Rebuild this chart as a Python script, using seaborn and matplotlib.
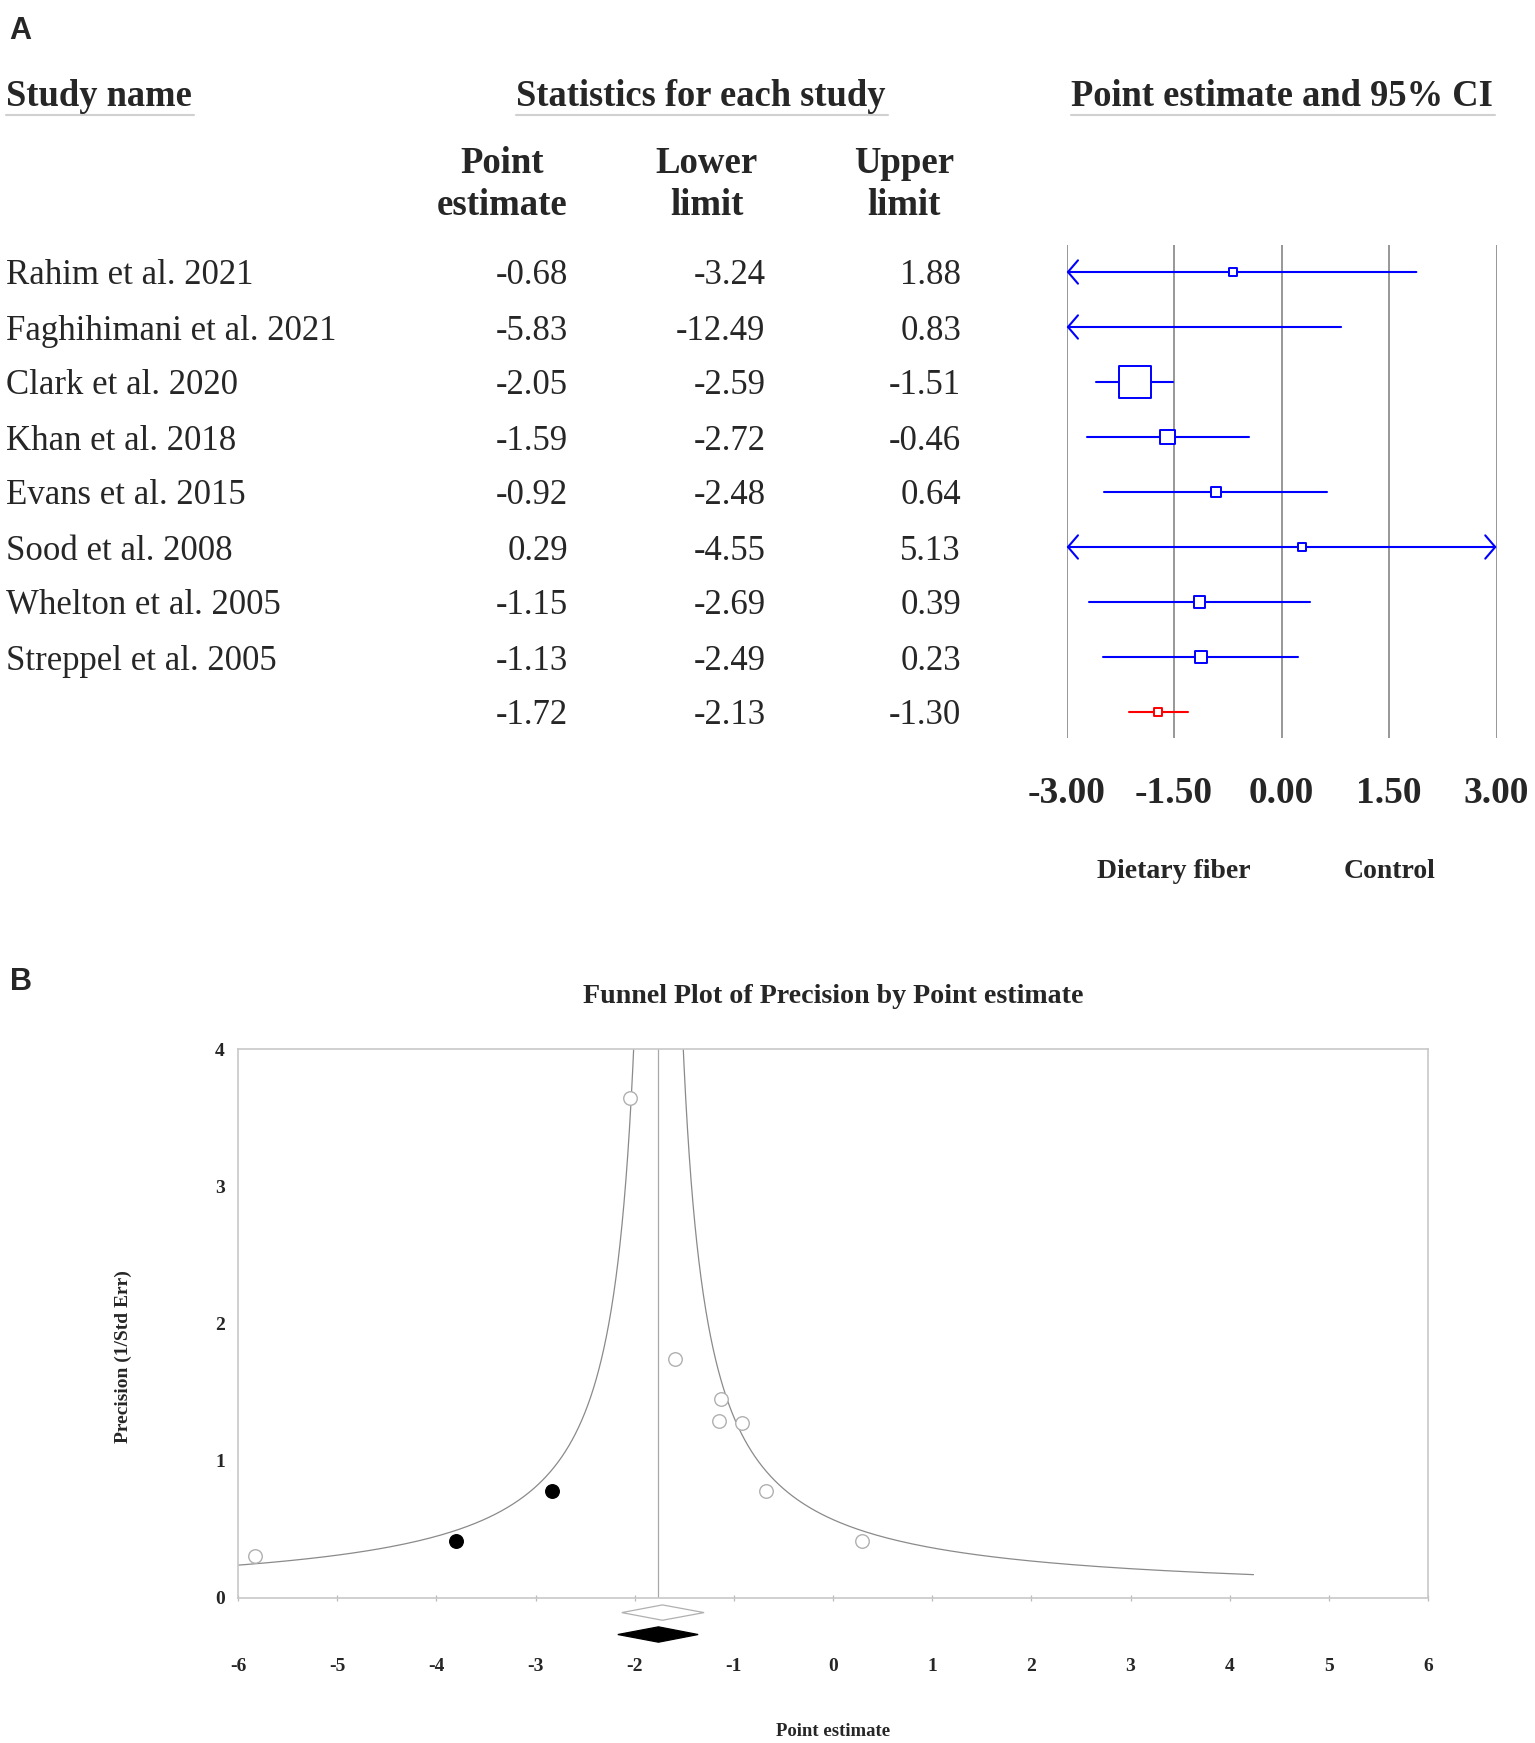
import numpy as np
import pandas as pd
import matplotlib
matplotlib.use("Agg")
import matplotlib.pyplot as plt
import seaborn as sns
from matplotlib.lines import Line2D
from matplotlib.transforms import blended_transform_factory as blend

# ---- data: forest plot (panel A) ----
studies = ["Rahim et al. 2021", "Faghihimani et al. 2021", "Clark et al. 2020",
           "Khan et al. 2018", "Evans et al. 2015", "Sood et al. 2008",
           "Whelton et al. 2005", "Streppel et al. 2005"]
point = [-0.68, -5.83, -2.05, -1.59, -0.92, 0.29, -1.15, -1.13]
lower = [-3.24, -12.49, -2.59, -2.72, -2.48, -4.55, -2.69, -2.49]
upper = [1.88, 0.83, -1.51, -0.46, 0.64, 5.13, 0.39, 0.23]
weight = [3.3, 1.5, 60.0, 12.0, 5.9, 3.6, 7.1, 8.4]   # relative weight (%)
pooled = [-1.72, -2.13, -1.30]                         # point, lower, upper
forest_ticks = [-3.0, -1.5, 0.0, 1.5, 3.0]
side_labels = ["Dietary fiber", "Control"]

# ---- data: funnel plot (panel B) ----
precision = [0.78, 0.30, 3.64, 1.74, 1.27, 0.41, 1.29, 1.45]
imputed_point = [-3.80, -2.83]
imputed_precision = [0.41, 0.78]
adjusted = [-1.76, -2.17, -1.36]    # fixed-effect / trim-and-fill estimate, lower, upper
funnel_z = 1.0
funnel_x_end = 4.24                 # where the right funnel limit stops
funnel_xticks = list(range(-6, 7))
funnel_yticks = [0, 1, 2, 3, 4]

sns.set_theme(style="white")
plt.rcParams["font.family"] = ["Liberation Serif", "DejaVu Serif"]

W, H = 1535, 1743
fig = plt.figure(figsize=(W / 100, H / 100), dpi=100)


def fx(px):
    return px / W


def fy(py):
    return 1 - py / H


# ================= Panel A =================
fig.text(fx(9), fy(39), "A", family=["Liberation Sans", "DejaVu Sans"],
         fontweight="bold", fontsize=22, va="baseline")

row0, row_dy = 272.0, 55.0
f_top, f_bot, f_left, f_right = 245, 738, 1066.6, 1496.6
ax_f = fig.add_axes([fx(f_left), fy(f_bot), (f_right - f_left) / W, (f_bot - f_top) / H])

for t in forest_ticks:
    ax_f.axvline(t, color="#7a7a7a", lw=1.1, zorder=1)

blue = "#0000ff"
for i, (lo, hi) in enumerate(zip(lower, upper)):
    lo_c, hi_c = max(lo, -3), min(hi, 3)
    if lo < -3 or hi > 3:
        if lo < -3 and hi > 3:
            style, a, b = "<->", (-3, i), (3, i)
        elif lo < -3:
            style, a, b = "->", (-3, i), (hi_c, i)
        else:
            style, a, b = "->", (3, i), (lo_c, i)
        ax_f.annotate("", xy=a, xytext=b,
                      arrowprops=dict(arrowstyle=style + ",head_length=0.36,head_width=0.42",
                                      mutation_scale=20, color=blue, lw=1.5,
                                      shrinkA=0, shrinkB=0), zorder=2)
    else:
        ax_f.plot([lo_c, hi_c], [i, i], color=blue, lw=1.5, zorder=2)

k = (4.13 * 0.72) ** 2
df = pd.DataFrame({"x": point, "y": range(len(point)), "w": weight})
sns.scatterplot(data=df, x="x", y="y", size="w", sizes=(k * min(weight), k * max(weight)),
                size_norm=(min(weight), max(weight)), marker="s", color="white",
                edgecolor=blue, linewidth=1.4, legend=False, ax=ax_f, zorder=3)

n = len(studies)
ax_f.plot([pooled[1], pooled[2]], [n, n], color="red", lw=1.5, zorder=2)
sns.scatterplot(x=[pooled[0]], y=[n], marker="s", s=(8 * 0.72) ** 2, color="white",
                edgecolor="red", linewidth=1.4, ax=ax_f, zorder=3, legend=False)

ax_f.set_xlim(-3, 3)
ax_f.set_ylim((f_bot - row0) / row_dy, (f_top - row0) / row_dy)
ax_f.set_xlabel("")
ax_f.set_ylabel("")
ax_f.set_yticks([])
ax_f.set_xticks(forest_ticks)
ax_f.set_xticklabels([f"{t:.2f}" for t in forest_ticks], fontweight="bold")
ax_f.tick_params(axis="x", length=0, pad=27.5, labelsize=27)
for s in ax_f.spines.values():
    s.set_visible(False)
ax_f.patch.set_alpha(0)

for lab, xv in zip(side_labels, [-1.5, 1.5]):
    ax_f.text(xv, fy(878), lab, transform=blend(ax_f.transData, fig.transFigure),
              ha="center", va="baseline", fontsize=20, fontweight="bold")

# table text
tr = blend(fig.transFigure, ax_f.transData)
num_right = [568, 765.5, 961]
for i, name in enumerate(studies):
    fig.text(fx(6), i, name, transform=tr, fontsize=25, va="center_baseline")
    for xr, v in zip(num_right, [point[i], lower[i], upper[i]]):
        fig.text(fx(xr), i, f"{v:.2f}", transform=tr, fontsize=25,
                 ha="right", va="center_baseline")
for xr, v in zip(num_right, pooled):
    fig.text(fx(xr), n, f"{v:.2f}", transform=tr, fontsize=25,
             ha="right", va="center_baseline")

headers = []
for x0, txt in [(6, "Study name"), (516, "Statistics for each study"),
                (1071, "Point estimate and 95% CI")]:
    headers.append(fig.text(fx(x0), fy(106), txt, fontsize=26.3, fontweight="bold", va="baseline"))

for xc, l1, l2 in [(502, "Point", "estimate"), (707, "Lower", "limit"), (904, "Upper", "limit")]:
    fig.text(fx(xc), fy(173), l1, fontsize=26.5, fontweight="bold", ha="center", va="baseline")
    fig.text(fx(xc), fy(215), l2, fontsize=26.5, fontweight="bold", ha="center", va="baseline")

# ================= Panel B =================
fig.text(fx(10), fy(990), "B", family=["Liberation Sans", "DejaVu Sans"],
         fontweight="bold", fontsize=22, va="baseline")

b_left, b_right, b_top, b_bot = 238, 1428, 1049, 1597.5
ax_b = fig.add_axes([fx(b_left), fy(b_bot), (b_right - b_left) / W, (b_bot - b_top) / H])

center = adjusted[0]
ax_b.axvline(center, color="#a8a8a8", lw=0.9, zorder=1)
yg = np.linspace(funnel_z / (funnel_x_end - center), 4.5, 600)
for sign in (-1, 1):
    sns.lineplot(x=center + sign * funnel_z / yg, y=yg, sort=False, estimator=None,
                 color="#8a8a8a", lw=0.9, ax=ax_b, zorder=2)

sns.scatterplot(x=point, y=precision, s=95, color="white", edgecolor="#b0b0b0",
                linewidth=1.0, ax=ax_b, zorder=3, legend=False)
sns.scatterplot(x=imputed_point, y=imputed_precision, s=95, color="black",
                edgecolor="black", linewidth=1.0, ax=ax_b, zorder=3, legend=False)

# summary diamonds below the axis
for (c, lo, hi), yc, fc, ec in [(pooled, -0.11, "white", "#b0b0b0"),
                                (adjusted, -0.27, "black", "black")]:
    ax_b.fill([lo, c, hi, c], [yc, yc + 0.056, yc, yc - 0.056], facecolor=fc,
              edgecolor=ec, lw=0.9, clip_on=False, zorder=3)

ax_b.set_xlim(-6, 6)
ax_b.set_ylim(0, 4)
ax_b.set_xticks(funnel_xticks)
ax_b.set_yticks(funnel_yticks)
ax_b.set_xticklabels([str(t) for t in funnel_xticks], fontweight="bold")
ax_b.set_yticklabels([str(t) for t in funnel_yticks], fontweight="bold")
ax_b.tick_params(axis="x", direction="inout", length=5, width=0.9, color="#bbbbbb",
                 pad=41, labelsize=14, bottom=True)
ax_b.tick_params(axis="y", length=0, pad=9.4, labelsize=14)
ax_b.set_xlabel("")
ax_b.set_ylabel("")
for s in ax_b.spines.values():
    s.set_color("#c8c8c8")
    s.set_linewidth(1.2)

fig.text(fx(833), fy(1003), "Funnel Plot of Precision by Point estimate",
         ha="center", va="baseline", fontsize=20.2, fontweight="bold")
fig.text(fx(123), fy(1357), "Precision (1/Std Err)", rotation=90, ha="center",
         va="center", fontsize=14, fontweight="bold")
fig.text(fx(833), fy(1736.5), "Point estimate", ha="center", va="baseline",
         fontsize=13.5, fontweight="bold")

# underline the section headers
fig.canvas.draw()
renderer = fig.canvas.get_renderer()
for t in headers:
    bb = t.get_window_extent(renderer)
    fig.add_artist(Line2D([bb.x0 / W, (bb.x1 + 2) / W], [fy(114.5)] * 2,
                          transform=fig.transFigure, color="#d0d0d0", lw=1.5))

fig.savefig("out.png", dpi=100, facecolor="white")
